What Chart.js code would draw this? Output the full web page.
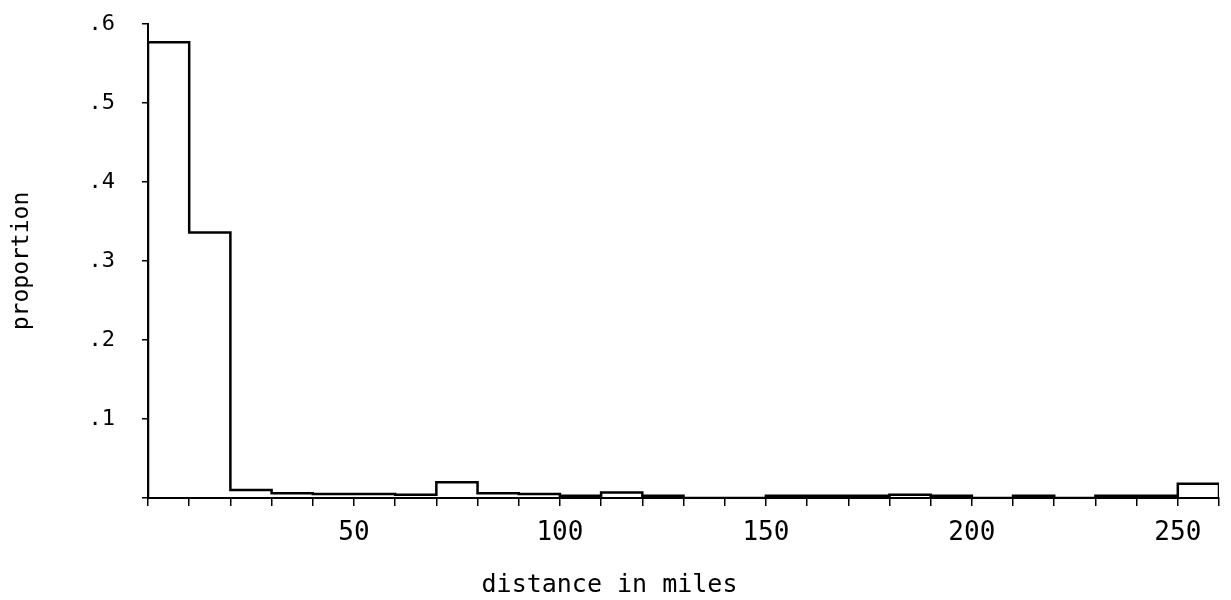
<!DOCTYPE html>
<html>
<head>
<meta charset="utf-8">
<script src="https://cdn.jsdelivr.net/npm/chart.js@4.4.1/dist/chart.umd.min.js"></script>
<style>
  html, body { margin: 0; padding: 0; background: #ffffff; }
  #wrap { width: 1231px; height: 600px; position: relative; }
</style>
</head>
<body>
<div id="wrap"><canvas id="c"></canvas></div>
<script>
// Histogram bins (start of each 10-mile bin) and proportion in each bin
const binStart = [0, 10, 20, 30, 40, 50, 60, 70, 80, 90, 100, 110, 120, 130, 140, 150, 160, 170, 180, 190, 200, 210, 220, 230, 240, 250];
const binWidth = 10;
const proportion = [0.577, 0.336, 0.010, 0.006, 0.005, 0.005, 0.004, 0.020, 0.006, 0.005, 0.003, 0.007, 0.003, 0.000, 0.000, 0.003, 0.003, 0.003, 0.004, 0.003, 0.000, 0.003, 0.000, 0.003, 0.003, 0.018];
const xTickLabels = [50, 100, 150, 200, 250];
const yTickLabels = ['', '.1', '.2', '.3', '.4', '.5', '.6'];
const xTitle = 'distance in miles';
const yTitle = 'proportion';

const xMax = binStart[binStart.length - 1] + binWidth;
const points = [{ x: binStart[0], y: 0 }]
  .concat(binStart.map((x, i) => ({ x: x, y: proportion[i] })))
  .concat([{ x: xMax, y: 0 }]);

const FONT = "'DejaVu Sans Mono', 'Liberation Mono', monospace";

new Chart(document.getElementById('c'), {
  type: 'line',
  data: {
    datasets: [{
      data: points,
      stepped: 'before',
      borderColor: '#000000',
      borderWidth: 2.5,
      pointRadius: 0,
      fill: false,
      tension: 0
    }]
  },
  options: {
    responsive: true,
    maintainAspectRatio: false,
    animation: false,
    layout: { padding: { top: 24, right: 12, bottom: 0, left: 0 } },
    plugins: {
      legend: { display: false },
      tooltip: { enabled: false },
      title: {
        display: true,
        position: 'bottom',
        text: xTitle,
        color: '#000000',
        font: { family: FONT, size: 25, weight: 'normal', lineHeight: 1.2 },
        padding: { top: 23, bottom: 0 }
      }
    },
    scales: {
      x: {
        type: 'linear',
        min: 0,
        max: xMax,
        afterFit: (s) => { s.height = 49; },
        border: { display: true, color: '#000000', width: 2 },
        grid: { drawOnChartArea: false, drawTicks: true, tickLength: 8, color: '#000000', lineWidth: 1.5 },
        ticks: {
          stepSize: binWidth,
          autoSkip: false,
          maxRotation: 0,
          padding: 12,
          color: '#000000',
          font: { family: FONT, size: 26, lineHeight: 1.2 },
          callback: (v) => xTickLabels.includes(v) ? String(v) : ''
        }
      },
      y: {
        min: 0,
        max: 0.6,
        afterFit: (s) => { s.width = 148; s.paddingTop = 13; s.paddingBottom = 0; },
        border: { display: true, color: '#000000', width: 2 },
        grid: { drawOnChartArea: false, drawTicks: true, tickLength: 6, color: '#000000', lineWidth: 1.5 },
        ticks: {
          stepSize: 0.1,
          padding: 27,
          color: '#000000',
          font: { family: FONT, size: 22, lineHeight: 1.2 },
          callback: (v, i) => yTickLabels[i]
        },
        title: {
          display: true,
          text: yTitle,
          color: '#000000',
          font: { family: FONT, size: 23, lineHeight: 1.2 },
          padding: { top: 8, bottom: 0 }
        }
      }
    }
  }
});
</script>
</body>
</html>
